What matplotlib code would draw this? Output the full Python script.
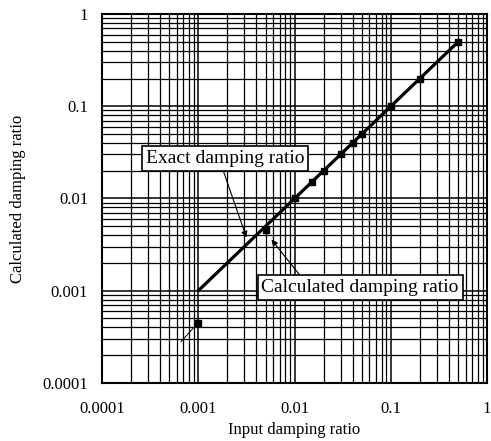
import matplotlib
matplotlib.use("Agg")
import matplotlib.pyplot as plt

# === DATA ===
exact_x = [0.001, 0.5]
exact_y = [0.001, 0.5]

calc_x = [0.001, 0.005, 0.01, 0.015, 0.02, 0.03, 0.04, 0.05, 0.1, 0.2, 0.5]
calc_y = [0.00045, 0.0046, 0.01, 0.015, 0.02, 0.03, 0.04, 0.05, 0.1, 0.2, 0.5]

# thin tail below the first calculated point
tail_x = [0.00066, 0.001]
tail_y = [0.00028, 0.00045]

ticks = [0.0001, 0.001, 0.01, 0.1, 1]
tick_labels = ["0.0001", "0.001", "0.01", "0.1", "1"]

plt.rcParams['font.family'] = ['Liberation Serif', 'DejaVu Serif']

fig = plt.figure(figsize=(4.91, 4.41), dpi=100)
ax = fig.add_axes([0.208, 0.132, 0.784, 0.836])

ax.set_xscale('log')
ax.set_yscale('log')
ax.set_xlim(0.0001, 1)
ax.set_ylim(0.0001, 1)

# grid
ax.grid(True, which='major', color='black', linewidth=1.1)
ax.grid(True, which='minor', color='black', linewidth=0.9)

# exact line (thick)
ax.plot(exact_x, exact_y, color='black', linewidth=2.3, zorder=3)
# calculated points
ax.plot(tail_x, tail_y, color='black', linewidth=0.7, zorder=3)
ax.plot(calc_x, calc_y, color='black', linestyle='none', marker='s', markersize=4.5, zorder=4)

ax.set_xticks(ticks)
ax.set_xticklabels(tick_labels)
ax.set_yticks(ticks)
ax.set_yticklabels(tick_labels)
ax.tick_params(which='both', length=0, labelsize=12)
ax.tick_params(axis='x', pad=13)
ax.tick_params(axis='y', pad=10)

for s in ax.spines.values():
    s.set_linewidth(1.5)

ax.set_xlabel('Input damping ratio', fontsize=12, labelpad=4)
ax.set_ylabel('Calculated damping ratio', fontsize=12, labelpad=12)

box = dict(boxstyle='square,pad=0.2', facecolor='white', edgecolor='black', linewidth=1.2)

ax.annotate('Exact damping ratio', xy=(0.00316, 0.00377), xytext=(0.0019, 0.027),
            fontsize=14, ha='center', va='center', bbox=box, zorder=5,
            arrowprops=dict(arrowstyle='-|>', color='black', linewidth=0.8, mutation_scale=9,
                            shrinkA=0, shrinkB=0, relpos=(0.48, 0.0)))
ax.annotate('Calculated damping ratio', xy=(0.00575, 0.00358), xytext=(0.048, 0.00108),
            fontsize=14, ha='center', va='center', bbox=box, zorder=5,
            arrowprops=dict(arrowstyle='-|>', color='black', linewidth=0.8, mutation_scale=9,
                            shrinkA=0, shrinkB=0, relpos=(0.21, 1.0)))

fig.savefig('out.png', dpi=100)
